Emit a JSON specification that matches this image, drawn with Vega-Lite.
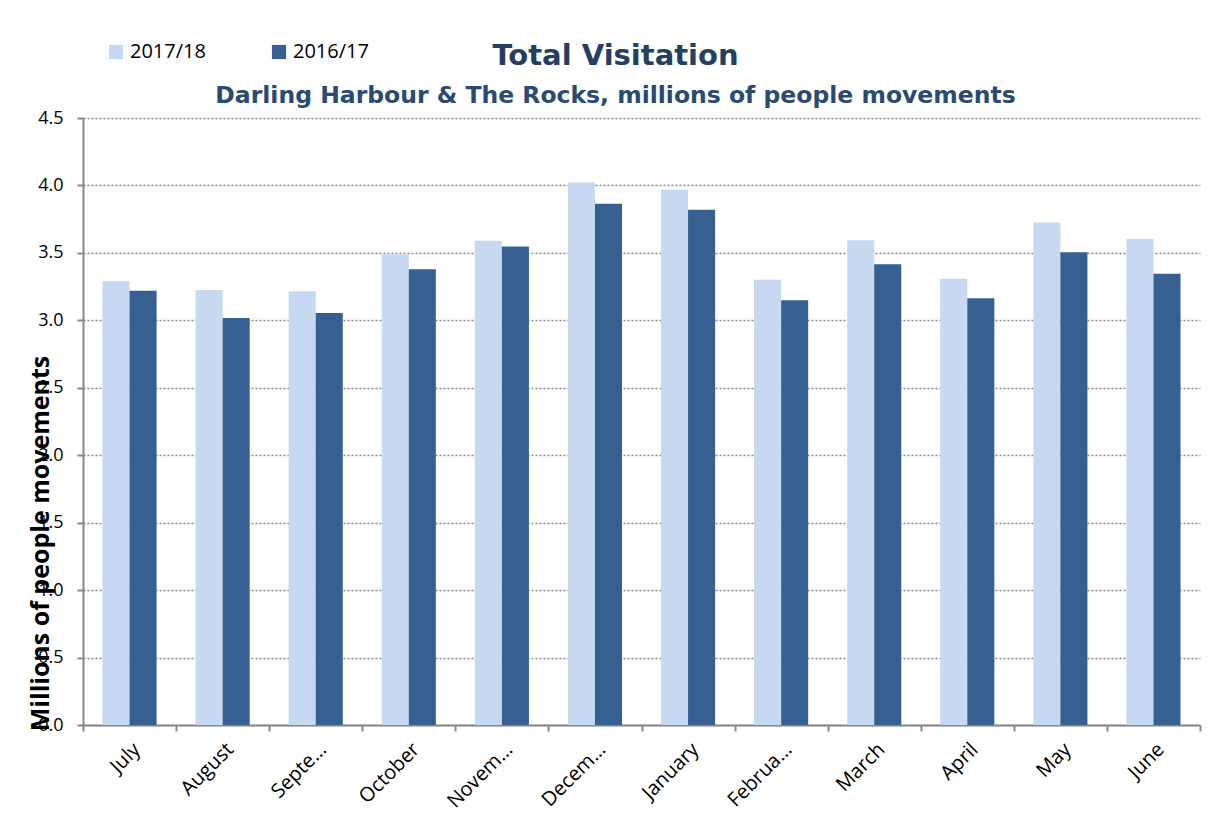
{
  "$schema": "https://vega.github.io/schema/vega-lite/v6.json",
  "autosize": "none",
  "width": 1117,
  "height": 607,
  "padding": {"left": 83, "top": 118, "right": 17, "bottom": 94},
  "background": "white",
  "title": {
    "text": "Total Visitation",
    "subtitle": "Darling Harbour & The Rocks, millions of people movements",
    "anchor": "middle",
    "frame": "group",
    "dx": -26,
    "offset": -65,
    "font": "DejaVu Sans",
    "fontSize": 29,
    "fontWeight": "bold",
    "color": "#243F60",
    "subtitleFont": "DejaVu Sans",
    "subtitleFontSize": 23.5,
    "subtitleFontWeight": "bold",
    "subtitleColor": "#2A4A72",
    "subtitlePadding": 13
  },
  "data": {
    "values": [
      {"month": "July", "year": "2017/18", "value": 3.29},
      {"month": "July", "year": "2016/17", "value": 3.22},
      {"month": "August", "year": "2017/18", "value": 3.225},
      {"month": "August", "year": "2016/17", "value": 3.017},
      {"month": "Septe…", "year": "2017/18", "value": 3.215},
      {"month": "Septe…", "year": "2016/17", "value": 3.054},
      {"month": "October", "year": "2017/18", "value": 3.49},
      {"month": "October", "year": "2016/17", "value": 3.378},
      {"month": "Novem…", "year": "2017/18", "value": 3.59},
      {"month": "Novem…", "year": "2016/17", "value": 3.548},
      {"month": "Decem…", "year": "2017/18", "value": 4.022},
      {"month": "Decem…", "year": "2016/17", "value": 3.864},
      {"month": "January", "year": "2017/18", "value": 3.97},
      {"month": "January", "year": "2016/17", "value": 3.82},
      {"month": "Februa…", "year": "2017/18", "value": 3.30},
      {"month": "Februa…", "year": "2016/17", "value": 3.148},
      {"month": "March", "year": "2017/18", "value": 3.593},
      {"month": "March", "year": "2016/17", "value": 3.415},
      {"month": "April", "year": "2017/18", "value": 3.309},
      {"month": "April", "year": "2016/17", "value": 3.163},
      {"month": "May", "year": "2017/18", "value": 3.726},
      {"month": "May", "year": "2016/17", "value": 3.504},
      {"month": "June", "year": "2017/18", "value": 3.605},
      {"month": "June", "year": "2016/17", "value": 3.346}
    ]
  },
  "mark": {"type": "bar"},
  "encoding": {
    "x": {
      "field": "month",
      "type": "nominal",
      "sort": ["July", "August", "Septe…", "October", "Novem…", "Decem…", "January", "Februa…", "March", "April", "May", "June"],
      "scale": {"paddingInner": 0, "paddingOuter": 0},
      "axis": {
        "title": null,
        "labelAngle": -45,
        "labelFont": "Open Sans",
        "labelFontSize": 20,
        "labelColor": "black",
        "labelPadding": 8,
        "tickBand": "extent",
        "tickSize": 6,
        "tickColor": "#888888",
        "tickWidth": 2,
        "domainColor": "#888888",
        "domainWidth": 2,
        "grid": false
      }
    },
    "xOffset": {
      "field": "year",
      "type": "nominal",
      "sort": ["2017/18", "2016/17"],
      "scale": {"paddingInner": 0, "paddingOuter": 0.72}
    },
    "y": {
      "field": "value",
      "type": "quantitative",
      "scale": {"domain": [0, 4.5], "nice": false},
      "axis": {
        "values": [0, 0.5, 1, 1.5, 2, 2.5, 3, 3.5, 4, 4.5],
        "format": ".1f",
        "title": "Millions of people movements",
        "titleFont": "Open Sans",
        "titleFontSize": 25,
        "titleFontWeight": "bold",
        "titleColor": "black",
        "titleAngle": -90,
        "titleAlign": "center",
        "titleBaseline": "middle",
        "titleX": -43,
        "titleY": 425,
        "labelFont": "Open Sans",
        "labelFontSize": 18,
        "labelColor": "black",
        "labelPadding": 14,
        "tickSize": 6,
        "tickColor": "#888888",
        "tickWidth": 2,
        "domainColor": "#888888",
        "domainWidth": 2,
        "grid": true,
        "gridColor": "#888888",
        "gridDash": [2, 2],
        "gridWidth": 1.5
      }
    },
    "color": {
      "field": "year",
      "type": "nominal",
      "scale": {"domain": ["2017/18", "2016/17"], "range": ["#C6D9F1", "#366092"]},
      "legend": {
        "title": null,
        "orient": "none",
        "direction": "horizontal",
        "legendX": 23,
        "legendY": -76,
        "symbolType": "square",
        "symbolSize": 200,
        "symbolStrokeWidth": 0,
        "labelFont": "Open Sans",
        "labelFontSize": 20,
        "labelColor": "black",
        "labelOffset": 4,
        "columnPadding": 63,
        "labelLimit": 200
      }
    }
  },
  "config": {"view": {"stroke": null}}
}
